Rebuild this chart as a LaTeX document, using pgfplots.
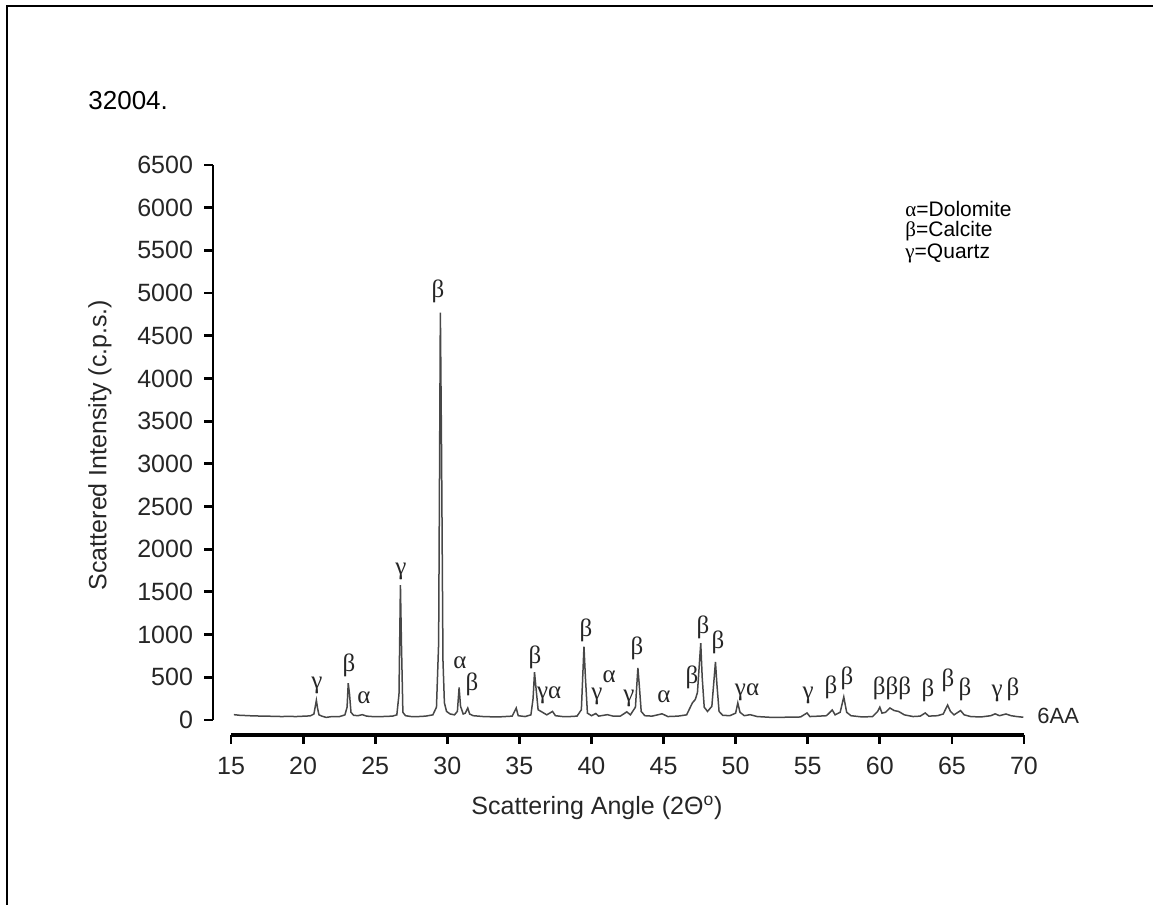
\documentclass[border=0pt]{standalone}
\usepackage{fontspec}
\setmainfont{Liberation Sans}
\newfontfamily\gr{Liberation Serif}
\usepackage{pgfplots}
\pgfplotsset{compat=1.18}
\tikzset{pk/.style={font=\gr\fontsize{12.5}{14}\selectfont, inner sep=0pt, text=black!85}}
\pgfplotstableread{
x y
15.2 62
15.6 55
16.0 52
16.5 48
17.0 46
17.5 44
18.0 43
18.5 40
19.0 42
19.5 40
20.0 44
20.5 48
20.75 70
20.92 230
21.0 140
21.1 60
21.3 45
21.6 30
22.0 40
22.5 38
22.9 60
23.05 150
23.13 430
23.22 300
23.32 90
23.5 55
23.8 50
24.1 62
24.4 45
24.8 40
25.5 40
26.2 45
26.5 60
26.65 300
26.75 1580
26.82 900
26.92 90
27.1 50
27.5 40
28.0 40
28.5 45
29.0 60
29.25 150
29.4 900
29.52 4770
29.6 3200
29.7 700
29.8 200
29.95 100
30.2 70
30.5 60
30.7 100
30.82 380
30.92 160
31.1 70
31.25 80
31.42 140
31.55 70
31.8 50
32.5 40
33.5 35
34.5 45
34.78 140
34.92 50
35.4 40
35.8 60
35.95 250
36.05 560
36.15 380
36.3 120
36.5 100
36.9 60
37.3 100
37.5 50
38.0 40
38.5 40
39.0 45
39.3 120
39.48 860
39.58 500
39.72 80
40.0 50
40.3 75
40.5 45
41.1 62
41.5 45
42.0 45
42.45 95
42.7 60
43.05 150
43.22 610
43.32 400
43.45 100
43.7 50
44.2 45
44.9 72
45.3 40
46.0 45
46.6 60
47.0 200
47.2 240
47.35 320
47.58 900
47.68 500
47.82 150
48.05 100
48.35 160
48.6 680
48.7 420
48.85 100
49.1 55
49.6 50
50.0 80
50.15 200
50.3 90
50.6 50
51.0 62
51.5 40
52.5 30
53.5 32
54.5 35
54.95 82
55.15 40
55.8 45
56.3 50
56.7 117
56.9 60
57.25 90
57.5 270
57.7 90
58.0 50
58.8 35
59.5 40
59.85 100
60.0 150
60.15 80
60.4 90
60.7 140
61.0 110
61.3 100
61.7 60
62.3 40
62.8 45
63.15 82
63.4 45
64.0 50
64.4 70
64.7 175
64.9 100
65.15 60
65.6 110
65.85 60
66.3 40
67.0 35
67.7 50
68.0 72
68.3 50
68.75 70
69.1 50
69.5 40
69.95 32
}\xrd
\begin{document}
\begin{tikzpicture}
\begin{scope}[x=0.5pt,y=0.5pt]
\useasboundingbox (0,0) rectangle (1153,905);
\draw[line width=1.3pt] (7,0) -- (7,899) -- (1153,899);
\node[anchor=west,font=\fontsize{13}{15}\selectfont,inner sep=0pt] at (88,{905-101}) {32004.};
\node[rotate=90,font=\fontsize{12.5}{15}\selectfont,text=black!85] at (100,{905-445}) {Scattered Intensity (c.p.s.)};
\node[font=\fontsize{12.5}{15}\selectfont,text=black!85] at (597,{905-808}) {Scattering Angle (2Θ\textsuperscript{o})};
\end{scope}
\begin{axis}[at={(106.5pt,85pt)}, anchor=south west, scale only axis,
  width=405.5pt, height=285pt,
  xmin=13.75, xmax=70, ymin=-176, ymax=6500,
  axis lines*=left, axis line style={draw=none},
  xtick={15,20,...,70}, ytick={0,500,...,6500},
  tick align=outside, major tick length=4.5pt,
  tick style={black,line width=1.4pt},
  clip=false,
  ticklabel style={font=\fontsize{12.5}{15}\selectfont,text=black!85},
  xticklabel style={yshift=-3pt},
  yticklabel style={xshift=-2pt},
  /pgf/number format/assume math mode=true,
  /pgf/number format/1000 sep={},
  scaled y ticks=false,
]
\draw[line width=1.4pt] (axis cs:13.75,0) -- (axis cs:13.75,6500);
\draw[line width=1.8pt] (axis cs:15,-176) -- (axis cs:70,-176);
\addplot[black!72, line width=0.75pt, mark=none] table[x=x,y=y] {\xrd};
\node[pk] at (axis cs:20.96,410) {γ};
\node[pk] at (axis cs:23.18,644) {β};
\node[pk] at (axis cs:24.22,258) {α};
\node[pk] at (axis cs:26.79,1745) {γ};
\node[pk] at (axis cs:29.36,5025) {β};
\node[pk] at (axis cs:30.88,668) {α};
\node[pk] at (axis cs:31.72,422) {β};
\node[pk] at (axis cs:36.08,738) {β};
\node[pk] at (axis cs:37.06,293) {γα};
\node[pk] at (axis cs:39.62,1054) {β};
\node[pk] at (axis cs:40.38,281) {γ};
\node[pk] at (axis cs:41.22,504) {α};
\node[pk] at (axis cs:42.60,258) {γ};
\node[pk] at (axis cs:43.16,843) {β};
\node[pk] at (axis cs:45.03,269) {α};
\node[pk] at (axis cs:46.97,504) {β};
\node[pk] at (axis cs:47.74,1089) {β};
\node[pk] at (axis cs:48.78,914) {β};
\node[pk] at (axis cs:50.79,328) {γα};
\node[pk] at (axis cs:55.02,293) {γ};
\node[pk] at (axis cs:56.61,387) {β};
\node[pk] at (axis cs:57.72,492) {β};
\node[pk] at (axis cs:60.84,375) {βββ};
\node[pk] at (axis cs:63.34,351) {β};
\node[pk] at (axis cs:64.73,469) {β};
\node[pk] at (axis cs:65.91,363) {β};
\node[pk] at (axis cs:68.13,316) {γ};
\node[pk] at (axis cs:69.24,363) {β};
\node[anchor=west,font=\fontsize{11}{13}\selectfont,inner sep=0pt,text=black!85] at (axis cs:70.9,47) {6AA};
\node[anchor=west,font=\fontsize{10.5}{13}\selectfont,inner sep=0pt] at (axis cs:61.75,5980) {{\gr α}=Dolomite};
\node[anchor=west,font=\fontsize{10.5}{13}\selectfont,inner sep=0pt] at (axis cs:61.75,5725) {{\gr β}=Calcite};
\node[anchor=west,font=\fontsize{10.5}{13}\selectfont,inner sep=0pt] at (axis cs:61.75,5470) {{\gr γ}=Quartz};
\end{axis}
\end{tikzpicture}
\end{document}
